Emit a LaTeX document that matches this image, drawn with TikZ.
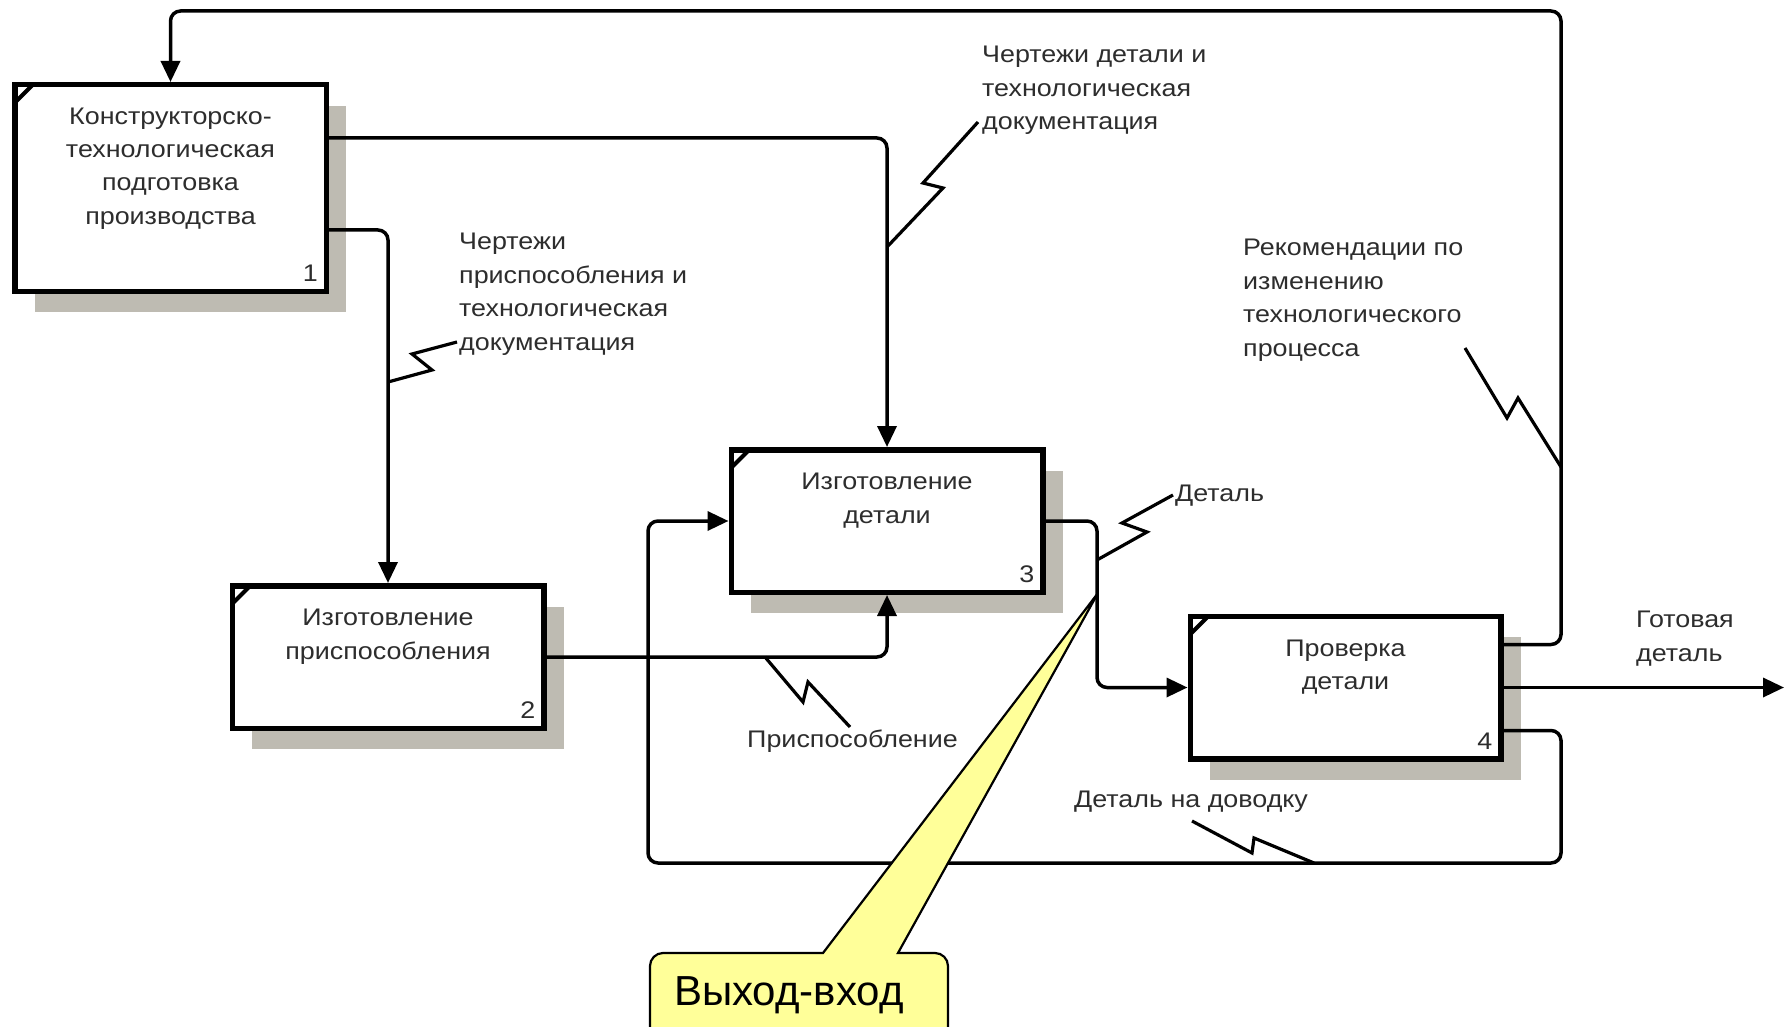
\documentclass[tikz,border=0pt]{standalone}
\usepackage{fontspec}
\setmainfont{Liberation Sans}[FakeStretch=1.12]
\newfontfamily\calloutfont{Liberation Sans}
\usetikzlibrary{arrows.meta,shadows}
\definecolor{shadowc}{RGB}{190,187,178}
\definecolor{textc}{RGB}{45,45,45}
\definecolor{notec}{RGB}{255,255,153}

\begin{document}
\begin{tikzpicture}[x=1pt,y=-1pt,
  actbox/.style={draw, line width=5.5pt, fill=white,
    minimum width=311.5pt, minimum height=142.5pt, inner sep=0pt,
    general shadow={shadow xshift=20pt, shadow yshift=-21pt, fill=shadowc},
    path picture={\draw[line width=4pt]
      ([yshift=-18pt]path picture bounding box.north west) --
      ([xshift=18pt]path picture bounding box.north west);}},
  boxtext/.style={font=\fontsize{24}{33.3}\selectfont, text=textc,
    align=center, anchor=north, inner sep=0pt},
  numtext/.style={font=\fontsize{24}{28}\selectfont, text=textc,
    anchor=south east, inner sep=0pt},
  lbl/.style={font=\fontsize{24}{33.5}\selectfont, text=textc,
    align=left, anchor=north west, inner sep=0pt},
  flow/.style={line width=3.5pt, rounded corners=10pt,
    -{Triangle[length=21pt,width=19pt]}},
  squig/.style={line width=3.2pt, line join=miter},
  callout/.style={draw=black, line width=2.2pt, fill=notec}
]
\useasboundingbox[fill=white] (0,0) rectangle (1788,1027);

% activity boxes
\node[actbox, minimum height=206.5pt] (b1) at (170.5,188) {};
\node[actbox] (b2) at (388,657) {};
\node[actbox] (b3) at (887,521) {};
\node[actbox, minimum width=310.5pt] (b4) at (1345.5,687.5) {};

\node[boxtext] (t1) at ([yshift=-25.5pt]b1.north) {Конструкторско-\\технологическая\\подготовка\\производства};
\node[boxtext] (t2) at ([yshift=-26pt]b2.north) {Изготовление\\приспособления};
\node[boxtext] (t3) at ([yshift=-26pt]b3.north) {Изготовление\\детали};
\node[boxtext] (t4) at ([yshift=-26pt]b4.north) {Проверка\\детали};

\node[numtext] (n1) at ([xshift=-11pt,yshift=12pt]b1.south east) {1};
\node[numtext] (n2) at ([xshift=-11pt,yshift=12pt]b2.south east) {2};
\node[numtext] (n3) at ([xshift=-11pt,yshift=12pt]b3.south east) {3};
\node[numtext] (n4) at ([xshift=-11pt,yshift=12pt]b4.south east) {4};

% routing points
\coordinate (topR) at (1561,11);
\coordinate (j34) at (1097,0);
\coordinate (outEnd) at (1784,0);
\coordinate (botR) at (1561,863);
\coordinate (botL) at (648,863);

% arrows
\draw[flow] ([yshift=43pt]b4.east) -| (topR) -| (b1.north);
\draw[flow] ([yshift=50pt]b1.east) -| (b3.north);
\draw[flow] ([yshift=-42pt]b1.east) -| (b2.north);
\draw[flow] (b2.east) -| (b3.south);
\draw[flow] (b3.east) -| (j34 |- b4.west) -- (b4.west);
\draw[flow] (b4.east) -- (b4.east -| outEnd);
\draw[flow] ([yshift=-43pt]b4.east) -| (botR) -- (botL) |- (b3.west);

% arrow labels
\node[lbl] (l1) at (982,46) {Чертежи детали и\\технологическая\\документация};
\node[lbl] (l2) at (459,233) {Чертежи\\приспособления и\\технологическая\\документация};
\node[lbl] (l3) at (1243,239) {Рекомендации по\\изменению\\технологического\\процесса};
\node[lbl] (l4) at (1175,485) {Деталь};
\node[lbl] (l5) at (747,730) {Приспособление};
\node[lbl] (l6) at (1074,791) {Деталь на доводку};
\node[lbl] (l7) at (1636,611) {Готовая\\деталь};

% label leaders
\coordinate (s1a) at (887,247); \coordinate (s1b) at (978,122);
\coordinate (s2a) at (388,382);   \coordinate (s2b) at (457,342);
\coordinate (s3a) at (1465,348);  \coordinate (s3b) at (1561,467);
\coordinate (s4a) at (1097,560);  \coordinate (s4b) at (1173,495);
\coordinate (s5a) at (765,657);   \coordinate (s5b) at (850,727);
\coordinate (s6a) at (1192,821);  \coordinate (s6b) at (1314,863);
\draw[squig] (s1a) -- (943,188) -- (923,183) -- (s1b);
\draw[squig] (s2a) -- (432,370) -- (412,354) -- (s2b);
\draw[squig] (s3a) -- (1507,418) -- (1518,398) -- (s3b);
\draw[squig] (s4a) -- (1147,532) -- (1122,523) -- (s4b);
\draw[squig] (s5a) -- (803,702) -- (808,682) -- (s5b);
\draw[squig] (s6a) -- (1252,853) -- (1254,838) -- (s6b);

% callout
\draw[callout] (650,1045) [rounded corners=13pt] -- (650,953) [sharp corners] -- (823,953)
  -- (1098,593) -- (898,953) [rounded corners=13pt] -- (948,953) -- (948,1045);
\node[font=\calloutfont\fontsize{42}{48}\selectfont, anchor=base west, inner sep=0pt]
  (note) at (674,1005) {Выход-вход};
\end{tikzpicture}
\end{document}
